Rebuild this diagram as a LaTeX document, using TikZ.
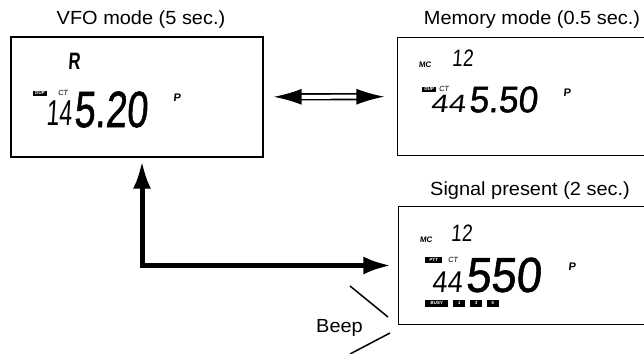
\documentclass[tikz,border=0pt]{standalone}
\usepackage{graphicx}
\usepackage{fontspec}
\newfontfamily\capfont[FakeStretch=1.05]{Liberation Sans}
\newfontfamily\segfont[FakeSlant=0.1]{Liberation Sans}
\newfontfamily\segheavy[FakeSlant=0.1,FakeBold=1.2]{Liberation Sans}
\usetikzlibrary{arrows.meta}
\newcommand{\seg}[3]{\fontsize{#1}{#1}\selectfont\scalebox{#2}[1]{#3}}
\tikzset{
  screen/.style  = {rectangle, draw, line width=1.3pt, inner sep=0pt},
  caption/.style = {font=\capfont\fontsize{19}{22}\selectfont, inner sep=0pt, anchor=base},
  segn/.style    = {font=\segfont, inner sep=0pt},
  segh/.style    = {font=\segheavy, inner sep=0pt},
  segb/.style    = {font=\segfont\bfseries, inner sep=0pt},
  tag/.style     = {fill=black, text=white, inner sep=0pt, font=\segfont\bfseries\fontsize{4.5}{5}\selectfont},
  dblarr/.style  = {double, double distance=4pt, line width=1.6pt, {Latex[length=28pt,width=16pt]}-{Latex[length=28pt,width=16pt]}},
  bigarr/.style  = {line width=5pt, {Latex[length=28pt,width=18pt]}-{Latex[length=28pt,width=18pt]}},
  beep/.style    = {line width=1.5pt}
}

\begin{document}
\begin{tikzpicture}[x=1pt, y=-1pt]
        \useasboundingbox (0,0) rectangle (644,353);
        \node[screen, minimum width=252pt, minimum height=120pt] (vfo) at (137,97) {};
        \node[screen, draw=none, minimum width=252pt, minimum height=117pt] (mem) at (524,96.5) {};
        \node[screen, draw=none, minimum width=252pt, minimum height=117pt] (sig) at (525,265.5) {};
        \draw[line width=1.3pt] (mem.north east) -- (mem.north west) -- (mem.south west) -- (mem.south east);
        \draw[line width=1.3pt] (sig.north east) -- (sig.north west) -- (sig.south west) -- (sig.south east);
        \node[caption] (vfocap) at (141,25)  {VFO mode (5 sec.)};
        \node[caption] (memcap) at (532,25)  {Memory mode (0.5 sec.)};
        \node[caption] (sigcap) at (530,195) {Signal present (2 sec.)};
        % VFO display
        \node[segb] (vfor)  at (74,61.5)    {\seg{23.7}{0.7}{R}};
        \node[tag, minimum width=14pt, minimum height=5pt] (vfodup) at (40,93) {DUP};
        \node[segn] (vfoct) at (63,93)      {\seg{7.5}{1}{CT}};
        \node[segn] (vfolo) at (59,113)     {\seg{36}{0.64}{14}};
        \node[segh] (vfohi) at (110.5,109.5){\seg{51}{0.74}{5.20}};
        \node[segb] (vfop)  at (177,98)     {\seg{11}{1}{P}};
        % memory display
        \node[segb] (memmc) at (425,64.5)   {\seg{8}{1}{MC}};
        \node[segn] (memch) at (462.5,58.5) {\seg{23.7}{0.8}{12}};
        \node[tag, minimum width=14pt, minimum height=5pt] (memdup) at (429,89) {DUP};
        \node[segn] (memct) at (444,89)     {\seg{7.5}{1}{CT}};
        \node[segn] (memlo) at (448,104)    {\seg{25}{1.25}{44}};
        \node[segh] (memhi) at (503,99.5)   {\seg{37}{0.95}{5.50}};
        \node[segb] (memp)  at (567,93)     {\seg{11}{1}{P}};
        % signal display
        \node[segb] (sigmc) at (426,239.5)  {\seg{8}{1}{MC}};
        \node[segn] (sigch) at (461.5,233.5){\seg{23.7}{0.8}{12}};
        \node[tag, minimum width=17pt, minimum height=6pt] (sigptt) at (433.5,259.5) {PTT};
        \node[segn] (sigct) at (453,259.5)  {\seg{7.5}{1}{CT}};
        \node[segn] (siglo) at (447,282)    {\seg{30}{0.9}{44}};
        \node[segh] (sighi) at (503,275)    {\seg{49}{0.92}{550}};
        \node[segb] (sigp)  at (572,267)    {\seg{11}{1}{P}};
        \node[tag, minimum width=23pt, minimum height=7pt] (sigbusy) at (436.5,303) {BUSY};
        \node[tag, minimum width=12pt, minimum height=7pt] (sigone)  at (459,303)   {1};
        \node[tag, minimum width=12pt, minimum height=7pt] (sigthree) at (476,303)  {3};
        \node[tag, minimum width=12pt, minimum height=7pt] (sigfive) at (492.5,303) {5};
        % arrows
        \draw[dblarr, shorten <=10pt, shorten >=13pt] (vfo) -- (mem);
        \coordinate (bend) at (142,265.5);
        \draw[bigarr, shorten <=3pt, shorten >=7pt] (vfo.south -| bend) -- (bend) -- (sig.west);
        \coordinate (beepa) at (350,286);
        \coordinate (beepb) at (388,317);
        \coordinate (beepc) at (390,333);
        \coordinate (beepd) at (350,354);
        \draw[beep] (beepa) -- (beepb);
        \draw[beep] (beepc) -- (beepd);
        \node[caption] (beeptxt) at (339.5,332) {Beep};
      \end{tikzpicture}
\end{document}
